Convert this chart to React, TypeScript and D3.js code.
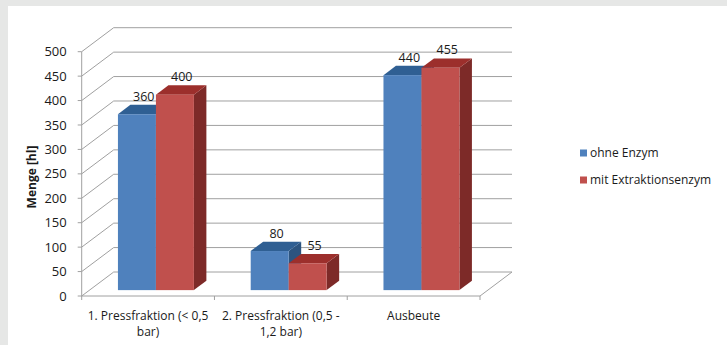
import React from "react";
import * as d3 from "d3";

const categories = ["1. Pressfraktion (< 0,5 bar)", "2. Pressfraktion (0,5 - 1,2 bar)", "Ausbeute"];
const categoryLines = [["1. Pressfraktion (< 0,5", "bar)"], ["2. Pressfraktion (0,5 -", "1,2 bar)"], ["Ausbeute"]];
const seriesNames = ["ohne Enzym", "mit Extraktionsenzym"];
const ohneEnzym = [360, 80, 440];
const mitEnzym = [400, 55, 455];
const yTicks = [0, 50, 100, 150, 200, 250, 300, 350, 400, 450, 500];

const W = 727;
const H = 345;
const font = "'Open Sans', 'Liberation Sans', sans-serif";

// colours: front, top, side
const palette = [
  { front: "#4f81bd", top: "#2f5f93", side: "#2c5480" },
  { front: "#c0504d", top: "#9c2f2c", side: "#7d2a28" },
];

export default function App() {
  const x0 = 81.7, x1 = 480;
  const x = d3.scaleBand<string>().domain(categories).range([x0, x1]);
  const y = d3.scaleLinear().domain([0, 500]).range([296, 51.7]);
  const inner = d3.scaleBand<string>().domain(seriesNames)
    .range([28.4, x.bandwidth() - 28.4]);

  // full depth of the 3d box
  const DX = 32, DY = -24;
  const tFront = 0.245, tBack = 0.635;
  const fdx = DX * tFront, fdy = DY * tFront;
  const bdx = DX * (tBack - tFront), bdy = DY * (tBack - tFront);

  const values = [ohneEnzym, mitEnzym];
  const grid = "#a0a0a0";
  const pt = (a: number[][]) => a.map(p => p.join(",")).join(" ");

  const bars: any[] = [];
  const labels: any[] = [];
  categories.forEach((c, ci) => {
    seriesNames.forEach((s, si) => {
      const v = values[si][ci];
      const xl = (x(c) as number) + (inner(s) as number) + fdx;
      const xr = xl + inner.bandwidth();
      const yb = y(0) + fdy;
      const yt = y(v) + fdy;
      const col = palette[si];
      bars.push(
        <g key={c + s}>
          <polygon points={pt([[xr, yt], [xr + bdx, yt + bdy], [xr + bdx, yb + bdy], [xr, yb]])} fill={col.side} />
          <polygon points={pt([[xl, yt], [xr, yt], [xr + bdx, yt + bdy], [xl + bdx, yt + bdy]])} fill={col.top} />
          <rect x={xl} y={yt} width={xr - xl} height={yb - yt} fill={col.front} />
        </g>
      );
      labels.push(
        <text key={"v" + c + s} x={(xl + xr) / 2 + bdx * 0.55} y={yt + bdy - 4} textAnchor="middle"
          fontSize={12.5} fontFamily={font} fill="#1a1a1a">{v}</text>
      );
    });
  });

  return (
    <svg width={W} height={H} style={{ position: "absolute", left: 0, top: 0 }}>
      <rect x={0} y={0} width={W} height={H} fill="#e6e7e6" />
      <rect x={8} y={6} width={W - 8} height={H - 6} fill="#ffffff" />

      {/* side wall + back wall gridlines */}
      {yTicks.map(t => (
        <polyline key={t} fill="none" stroke={grid} strokeWidth={1}
          points={`${x0},${y(t)} ${x0 + DX},${y(t) + DY} ${x1 + DX},${y(t) + DY}`} />
      ))}
      {/* floor front and right edge */}
      <line x1={x0} x2={x1} y1={y(0)} y2={y(0)} stroke={grid} />
      <line x1={x1} x2={x1 + DX} y1={y(0)} y2={y(0) + DY} stroke={grid} />
      {/* y axis */}
      <line x1={x0} x2={x0} y1={y(0) + 4} y2={y(500)} stroke={grid} />
      {yTicks.map(t => (
        <g key={"yt" + t}>
          <line x1={x0 - 4} x2={x0} y1={y(t)} y2={y(t)} stroke={grid} />
          <text x={x0 - 15} y={y(t)} dy="0.35em" textAnchor="end" fontSize={13}
            fontFamily={font} fill="#1a1a1a">{t}</text>
        </g>
      ))}
      {/* x ticks */}
      {categories.map(c => (
        <line key={"xt" + c} x1={(x(c) as number) + x.bandwidth()} x2={(x(c) as number) + x.bandwidth()}
          y1={y(0)} y2={y(0) + 4} stroke={grid} />
      ))}

      {bars}
      {labels}

      {/* category labels */}
      {categories.map((c, i) => (
        <text key={"cl" + c} x={(x(c) as number) + x.bandwidth() / 2} y={319.5}
          textAnchor="middle" fontSize={12} fontFamily={font} fill="#1a1a1a">
          {categoryLines[i].map((l, j) => (
            <tspan key={j} x={(x(c) as number) + x.bandwidth() / 2} dy={j === 0 ? 0 : 16.5}>{l}</tspan>
          ))}
        </text>
      ))}

      <text transform="translate(36,177) rotate(-90)" textAnchor="middle" fontSize={12}
        fontWeight="bold" fontFamily={font} fill="#1a1a1a">Menge [hl]</text>

      {/* legend */}
      {seriesNames.map((s, i) => (
        <g key={"lg" + s} transform={`translate(580,${153 + i * 27})`}>
          <rect x={0} y={-3.5} width={7} height={7} fill={palette[i].front} />
          <text x={10} y={0} dy="0.35em" fontSize={12} fontFamily={font} fill="#1a1a1a">{s}</text>
        </g>
      ))}
    </svg>
  );
}
